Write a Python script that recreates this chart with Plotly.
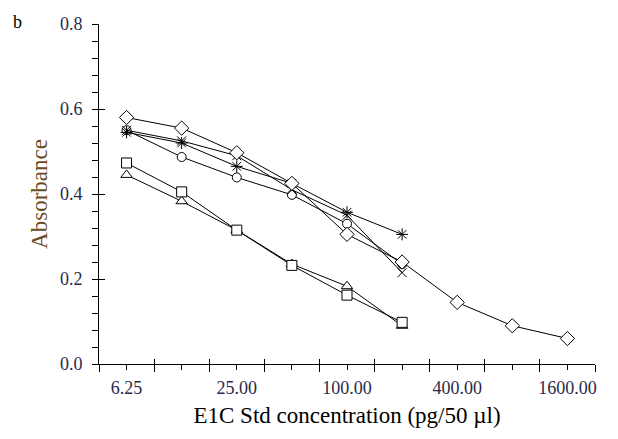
import math
import plotly.graph_objects as go

# ---- data ----
conc = [6.25, 12.5, 25, 50, 100, 200, 400, 800, 1600]
label_at = {6.25: "6.25", 25: "25.00", 100: "100.00", 400: "400.00", 1600: "1600.00"}

diamond = [0.58, 0.555, 0.497, 0.425, 0.305, 0.24, 0.145, 0.09, 0.06]
circle = [0.55, 0.487, 0.439, 0.398, 0.33, 0.235]
cross = [0.55, 0.525, 0.49, 0.41, 0.35, 0.215]
star = [0.545, 0.52, 0.465, 0.425, 0.357, 0.305]
square = [0.473, 0.405, 0.315, 0.232, 0.162, 0.098]
triangle = [0.445, 0.383, 0.315, 0.235, 0.183, 0.09]

y_major = [0.0, 0.2, 0.4, 0.6, 0.8]
y_labels = ["0.0", "0.2", "0.4", "0.6", "0.8"]

SERIF = "Times New Roman, Liberation Serif, serif"
TICKCOL = "#2a2a4a"

half = math.sqrt(2)
x_major_ticks = [conc[0] / half] + [c * half for c in conc]
x_all = sorted(conc + x_major_ticks)
x_all_text = [label_at.get(v, "") for v in x_all]
y_all = [round(i * 0.04, 2) for i in range(21)]
y_all_text = [f"{v:.1f}" if round(v / 0.2, 6) == round(v / 0.2) else "" for v in y_all]
xr = [math.log10(conc[0] / half), math.log10(conc[-1] * half)]
yr = [0, 0.8]

fig = go.Figure()

def add(y, sym, size=10, fill="white"):
    fig.add_trace(go.Scatter(
        x=conc[:len(y)], y=y, mode="lines+markers",
        line=dict(color="black", width=1),
        marker=dict(symbol=sym, size=size, color=fill,
                    line=dict(color="black", width=1)),
        showlegend=False, hoverinfo="skip"))

add(circle, "circle", 9)
add(cross, "x-thin-open", 9, fill="black")
add(star, "asterisk-open", 10, fill="black")
add(diamond, "diamond", 11)
add(triangle, "triangle-up", 10)
add(square, "square", 10)

# anchor traces (outside the visible range) for the overlay tick axes
for xa, ya in [("x2", "y"), ("x3", "y"), ("x", "y3")]:
    fig.add_trace(go.Scatter(x=[conc[0]], y=[-1.0], xaxis=xa, yaxis=ya,
                             mode="markers", marker=dict(color="white", size=2),
                             showlegend=False))

def tick_axis(vals, kind, length, log=False, **kw):
    d = dict(range=xr if log else yr, tickmode="array", tickvals=vals,
             showticklabels=False,
             ticks=kind, ticklen=length, tickwidth=1, tickcolor="black",
             showline=False, showgrid=False, zeroline=False, automargin=False)
    if log:
        d["type"] = "log"
    d.update(kw)
    return d

fig.update_layout(
    width=602, height=423,
    margin=dict(l=91, r=15, t=16, b=67, autoexpand=False),
    paper_bgcolor="white", plot_bgcolor="white",
    font=dict(family=SERIF, size=18, color="black"),
    showlegend=False,
    xaxis=dict(
        type="log", range=xr, automargin=False,
        tickmode="array", tickvals=x_all, ticktext=x_all_text,
        ticks="outside", ticklen=5, tickwidth=1, tickcolor="black",
        showline=True, linecolor="black", linewidth=1,
        showgrid=False, zeroline=False,
        tickfont=dict(family=SERIF, size=18, color=TICKCOL),
        ticklabelstandoff=2,
        title=dict(text="E1C Std concentration (pg/50 µl)",
                   font=dict(family=SERIF, size=23, color="black"), standoff=10),
    ),
    xaxis2=tick_axis(x_major_ticks, "outside", 7, log=True,
                     overlaying="x", anchor="y", side="bottom"),
    xaxis3=tick_axis(x_major_ticks, "inside", 5, log=True,
                     overlaying="x", anchor="y", side="bottom"),
    yaxis=dict(
        range=yr, automargin=False,
        tickmode="array", tickvals=y_all, ticktext=y_all_text,
        ticks="outside", ticklen=6, tickwidth=1, tickcolor="black",
        showline=True, linecolor="black", linewidth=1,
        showgrid=False, zeroline=False,
        tickfont=dict(family=SERIF, size=18, color=TICKCOL),
        ticklabelstandoff=6,
        title=dict(text="Absorbance",
                   font=dict(family=SERIF, size=23, color="#6b4a1e"), standoff=5),
    ),
    yaxis3=tick_axis(y_major, "inside", 6, overlaying="y", anchor="x", side="left"),
    annotations=[dict(text="b", x=(9 - 91) / 496, y=(356 - 14) / 340,
                      xref="paper", yref="paper", xanchor="center", yanchor="middle",
                      showarrow=False, font=dict(family=SERIF, size=18, color="black"))],
)

fig.write_html("out.html")
